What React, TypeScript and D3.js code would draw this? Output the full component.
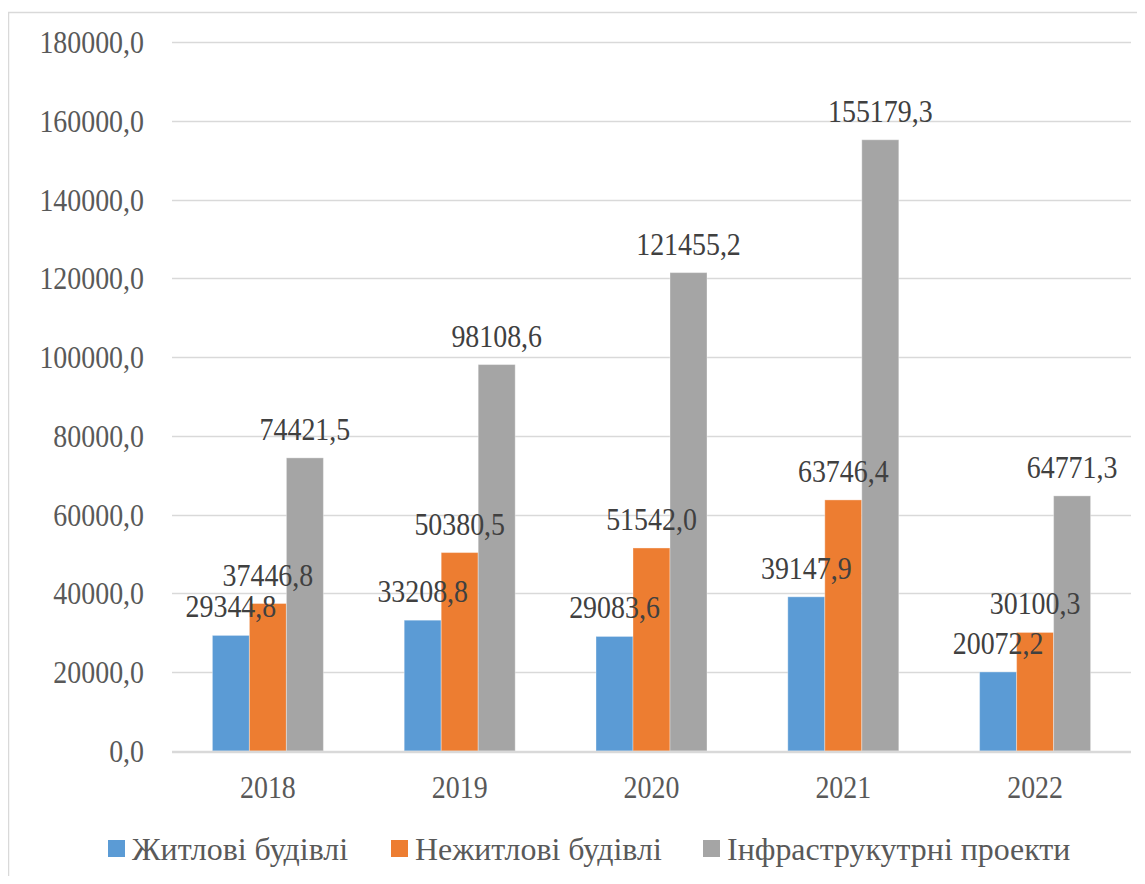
import * as d3 from 'd3';
import React, { useRef, useEffect } from 'react';

const years = ['2018', '2019', '2020', '2021', '2022'];
const seriesNames = ['Житлові будівлі', 'Нежитлові будівлі', 'Інфраструкутрні проекти'];
const residential = [29344.8, 33208.8, 29083.6, 39147.9, 20072.2];
const nonResidential = [37446.8, 50380.5, 51542.0, 63746.4, 30100.3];
const infrastructure = [74421.5, 98108.6, 121455.2, 155179.3, 64771.3];
const yTicks = [0, 20000, 40000, 60000, 80000, 100000, 120000, 140000, 160000, 180000];
const colors = ['#5B9BD5', '#ED7D31', '#A5A5A5'];

const FONT = "'Liberation Serif', 'DejaVu Serif', 'Times New Roman', serif";

function fmt(v: number) {
  return v.toFixed(1).replace('.', ',');
}

function Chart() {
  const ref = useRef<SVGSVGElement>(null);

  useEffect(() => {
    const width = 1145, height = 884;
    const left = 172, right = 1131, top = 42, bottom = 751;

    const svg = d3.select(ref.current)
      .attr('width', width)
      .attr('height', height)
      .style('display', 'block');
    svg.selectAll('*').remove();

    // outer chart border
    svg.append('rect')
      .attr('x', 8.5).attr('y', 12.5)
      .attr('width', 1160).attr('height', 900)
      .attr('fill', '#fff')
      .attr('stroke', '#d9d9d9')
      .attr('stroke-width', 1.5);

    const x = d3.scaleBand().domain(years).range([left, right]);
    const y = d3.scaleLinear().domain([0, 180000]).range([bottom, top]);
    const inner = d3.scaleBand().domain(['0', '1', '2'])
      .range([0, 111]);

    const label = (g: any, tx: number, ty: number, txt: string, anchor: string, sx: number, color: string) =>
      g.append('text')
        .attr('transform', `translate(${tx},${ty}) scale(${sx},1)`)
        .attr('text-anchor', anchor)
        .style('font-family', FONT)
        .style('font-size', '31px')
        .attr('fill', color)
        .text(txt);

    // grid lines
    svg.append('g').selectAll('line')
      .data(yTicks.slice(1))
      .enter().append('line')
      .attr('x1', left).attr('x2', right)
      .attr('y1', d => Math.round(y(d)) + 0.5)
      .attr('y2', d => Math.round(y(d)) + 0.5)
      .attr('stroke', '#d9d9d9')
      .attr('stroke-width', 1.3);

    // y tick labels
    const yg = svg.append('g');
    yTicks.forEach(t => label(yg, 144, y(t) + 11, fmt(t), 'end', 0.9, '#595959'));

    // bars
    const data = [residential, nonResidential, infrastructure];
    const bars = svg.append('g');
    data.forEach((series, si) => {
      bars.selectAll(`rect.s${si}`)
        .data(series)
        .enter().append('rect')
        .attr('class', `s${si}`)
        .attr('x', (d, i) => (x(years[i]) as number) + (x.bandwidth() - 111) / 2 + (inner(String(si)) as number))
        .attr('y', d => y(d))
        .attr('width', inner.bandwidth())
        .attr('height', d => bottom - y(d))
        .attr('fill', colors[si])
        .attr('stroke', '#ffffff')
        .attr('stroke-opacity', 0.35)
        .attr('stroke-width', 1);
    });

    // x axis line
    svg.append('line')
      .attr('x1', left).attr('x2', right)
      .attr('y1', bottom + 1).attr('y2', bottom + 1)
      .attr('stroke', '#d9d9d9')
      .attr('stroke-width', 2.5);

    // data labels
    const lg = svg.append('g');
    data.forEach((series, si) => {
      series.forEach((v, i) => {
        const cx = (x(years[i]) as number) + (x.bandwidth() - 111) / 2 + (inner(String(si)) as number) + inner.bandwidth() / 2;
        label(lg, cx, y(v) - 18, fmt(v), 'middle', 0.9, '#404040');
      });
    });

    // x labels
    const xg = svg.append('g');
    years.forEach(yr => label(xg, (x(yr) as number) + x.bandwidth() / 2, 798, yr, 'middle', 0.9, '#595959'));

    // legend
    const legendX = [108, 391, 703];
    const leg = svg.append('g');
    seriesNames.forEach((name, i) => {
      leg.append('rect')
        .attr('x', legendX[i]).attr('y', 840)
        .attr('width', 17).attr('height', 17)
        .attr('fill', colors[i]);
      label(leg, legendX[i] + 24, 860, name, 'start', 1.03, '#595959');
    });
  }, []);

  return (
    <svg ref={ref}></svg>
  );
}

export default function App() {
  return (
    <div style={{ margin: -8 }}>
      <Chart />
    </div>
  );
}
